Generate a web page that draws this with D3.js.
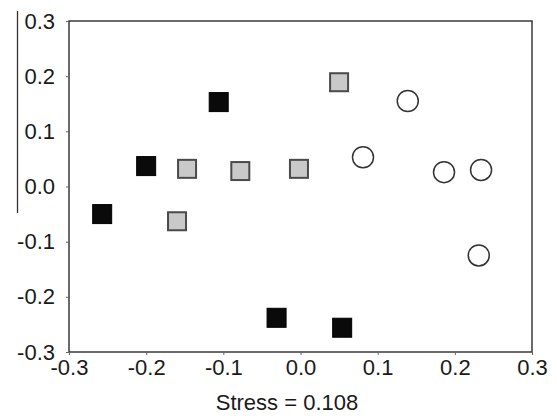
<!DOCTYPE html>
<html>
<head>
<meta charset="utf-8">
<script src="https://cdn.jsdelivr.net/npm/d3@7"></script>
<style>
  html, body { margin: 0; padding: 0; background: #fff; }
  svg { display: block; }
  text { font-family: "Liberation Sans", Arial, sans-serif; fill: #1a1a1a; }
</style>
</head>
<body>
<svg id="chart" width="557" height="416"></svg>
<script>
// MDS ordination coordinates, three groups of samples
const blackX = [-0.257, -0.200, -0.106, -0.031, 0.054];
const blackY = [-0.050, 0.037, 0.153, -0.238, -0.256];

const grayX = [-0.160, -0.147, -0.078, -0.002, 0.050];
const grayY = [-0.063, 0.032, 0.028, 0.032, 0.189];

const circleX = [0.139, 0.081, 0.186, 0.234, 0.231];
const circleY = [0.155, 0.053, 0.026, 0.030, -0.125];

const xTicks = [-0.3, -0.2, -0.1, 0.0, 0.1, 0.2, 0.3];
const yTicks = [-0.3, -0.2, -0.1, 0.0, 0.1, 0.2, 0.3];
const stressLabel = "Stress = 0.108";

const svg = d3.select("#chart");
const plotLeft = 69, plotRight = 532, plotTop = 21, plotBottom = 352;

const x = d3.scaleLinear().domain([-0.3, 0.3]).range([plotLeft, plotRight]);
const y = d3.scaleLinear().domain([-0.3, 0.3]).range([plotBottom, plotTop]);

// one decimal, plain hyphen for negatives
const fmt = d => d3.format(".1f")(d).replace("\u2212", "-");

// stray vertical rule at far left
svg.append("line")
  .attr("x1", 17.5).attr("x2", 17.5).attr("y1", 11).attr("y2", 213)
  .attr("stroke", "#333").attr("stroke-width", 1.3);

// plot frame
svg.append("rect")
  .attr("x", plotLeft).attr("y", plotTop)
  .attr("width", plotRight - plotLeft).attr("height", plotBottom - plotTop)
  .attr("fill", "none").attr("stroke", "#3a3a3a").attr("stroke-width", 1.5);

// axes
const xAxis = svg.append("g")
  .attr("transform", `translate(0,${plotBottom})`)
  .call(d3.axisBottom(x).tickValues(xTicks).tickFormat(fmt).tickSize(3).tickPadding(4));
const yAxis = svg.append("g")
  .attr("transform", `translate(${plotLeft},0)`)
  .call(d3.axisLeft(y).tickValues(yTicks).tickFormat(fmt).tickSize(3).tickPadding(11));

[xAxis, yAxis].forEach(g => {
  g.select(".domain").remove();
  g.selectAll(".tick line").attr("stroke", "#666").attr("stroke-width", 1);
  g.selectAll(".tick text")
    .attr("font-size", 22)
    .attr("font-family", "Liberation Sans, Arial, sans-serif")
    .attr("fill", "#1a1a1a");
});

const side = 19;

// black filled squares
svg.append("g").selectAll("rect")
  .data(d3.zip(blackX, blackY))
  .join("rect")
  .attr("x", d => x(d[0]) - side / 2)
  .attr("y", d => y(d[1]) - side / 2)
  .attr("width", side).attr("height", side)
  .attr("fill", "#0a0a0a")
  .attr("stroke", "#000").attr("stroke-width", 1);

// gray squares
svg.append("g").selectAll("rect")
  .data(d3.zip(grayX, grayY))
  .join("rect")
  .attr("x", d => x(d[0]) - (side - 1) / 2)
  .attr("y", d => y(d[1]) - (side - 1) / 2)
  .attr("width", side - 1).attr("height", side - 1)
  .attr("fill", "#c9c9c9")
  .attr("stroke", "#4a4a4a").attr("stroke-width", 2);

// open circles
svg.append("g").selectAll("circle")
  .data(d3.zip(circleX, circleY))
  .join("circle")
  .attr("cx", d => x(d[0]))
  .attr("cy", d => y(d[1]))
  .attr("r", 10.5)
  .attr("fill", "#fff")
  .attr("stroke", "#333").attr("stroke-width", 1.5);

// stress annotation
svg.append("text")
  .attr("x", 287).attr("y", 410)
  .attr("text-anchor", "middle")
  .attr("font-size", 22)
  .text(stressLabel);
</script>
</body>
</html>
